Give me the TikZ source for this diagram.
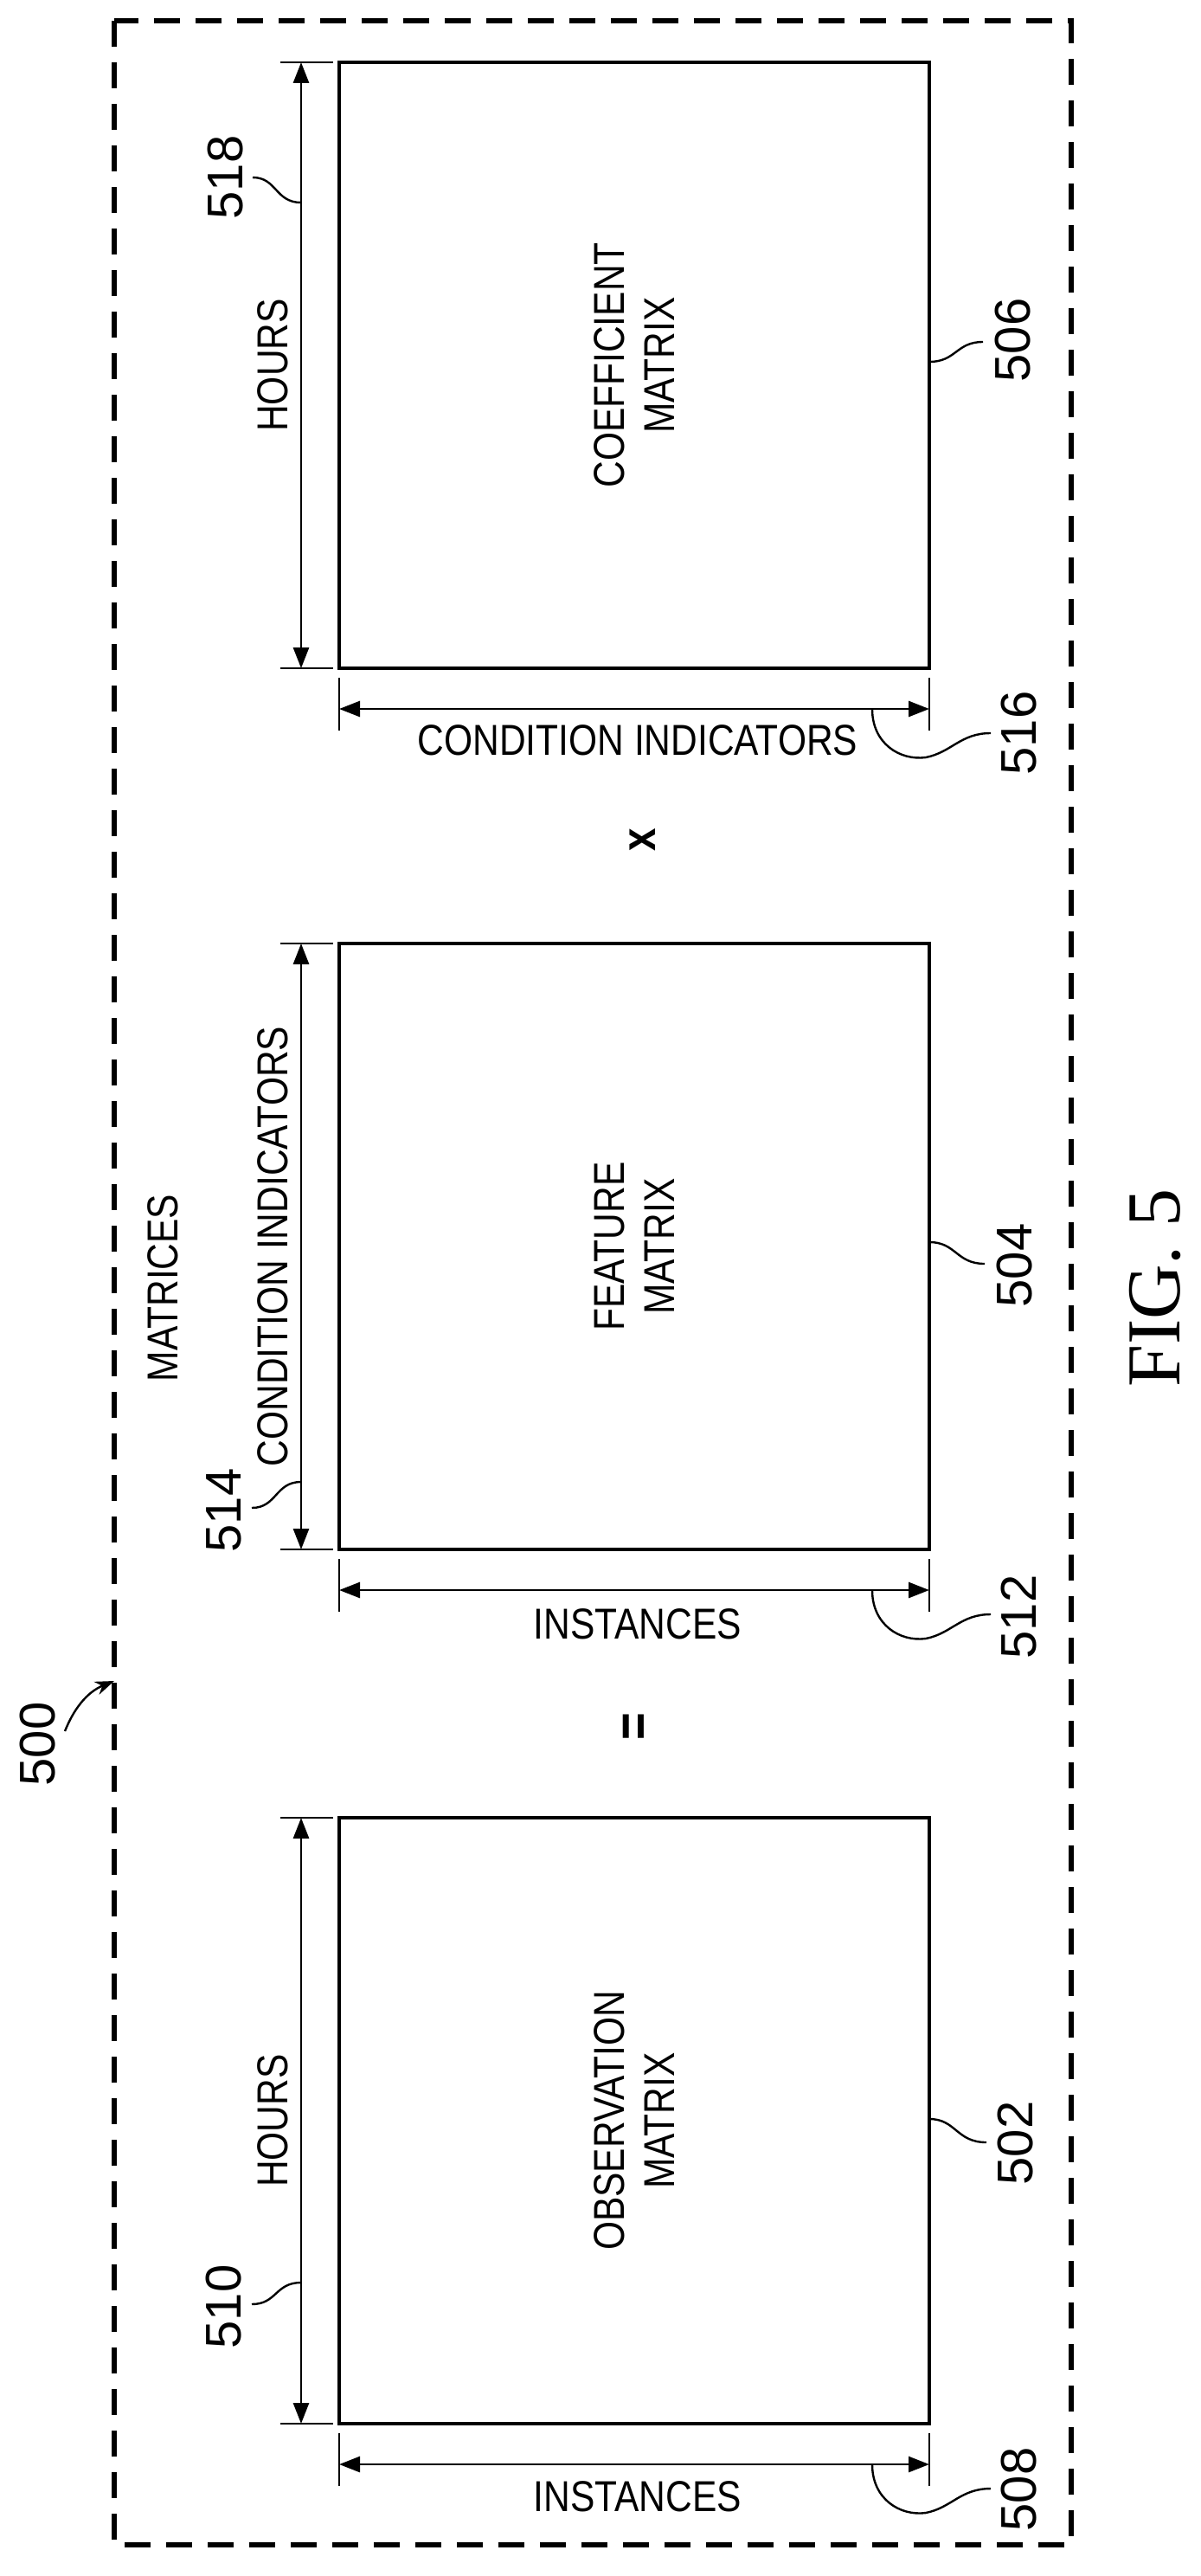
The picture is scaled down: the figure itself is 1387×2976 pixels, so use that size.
\documentclass[tikz,border=0pt]{standalone}
\usepackage{fontspec}
\setmainfont{Liberation Sans}[FakeStretch=0.85]
\newfontfamily\numfont{Liberation Sans}
\newfontfamily\figfont{Liberation Serif}
\usetikzlibrary{arrows.meta}
\begin{document}
\begin{tikzpicture}[x=0.5pt,y=-0.5pt,
  box/.style={draw,line width=1.9pt,minimum width=341pt,minimum height=350pt,inner sep=0pt},
  dim/.style={line width=1.4pt,{Triangle[length=12pt,width=9pt]}-{Triangle[length=12pt,width=9pt]}},
  ext/.style={line width=1.3pt},
  lbl/.style={font=\fontsize{25}{29}\selectfont,inner sep=0pt},
  num/.style={font=\numfont\fontsize{29}{32}\selectfont,rotate=90,inner sep=0pt},
  lead/.style={line width=1.2pt}]
\useasboundingbox (0,0) rectangle (1387,2976);
\draw[line width=2.8pt,dash pattern=on 15pt off 9pt] (132,24) rectangle (1238,2940);

\foreach \i/\cy in {1/422,2/1440,3/2450}{
  \pgfmathsetmacro{\top}{\cy-350}
  \pgfmathsetmacro{\bot}{\cy+350}
  \pgfmathsetmacro{\ay}{\cy+397}
  \node[box] (b\i) at (733,\cy) {};
  \draw[ext] (324,\top) -- (385,\top) (324,\bot) -- (385,\bot);
  \draw[dim] (348,\top) -- (348,\bot);
  \draw[ext] (392,\bot+11) -- (392,\bot+72) (1074,\bot+11) -- (1074,\bot+72);
  \draw[dim] (392,\ay) -- (1074,\ay);
  \draw[lead] (1008,\ay) .. controls (1008,\ay+40) and (1040,\ay+60) .. (1070,\ay+56)
     .. controls (1100,\ay+50) and (1110,\ay+28) .. (1145,\ay+28);
}

\node[lbl,rotate=90,align=center] (t1) at (b1) {COEFFICIENT\\MATRIX};
\node[lbl,rotate=90,align=center] (t2) at (b2) {FEATURE\\MATRIX};
\node[lbl,rotate=90,align=center] (t3) at (b3) {OBSERVATION\\MATRIX};

\node[lbl,rotate=90] (h1) at (315,422) {HOURS};
\node[lbl,rotate=90] (h2) at (315,1440) {CONDITION INDICATORS};
\node[lbl,rotate=90] (h3) at (315,2450) {HOURS};

\node[lbl] (w1) at (737,855) {CONDITION INDICATORS};
\node[lbl] (w2) at (737,1876) {INSTANCES};
\node[lbl] (w3) at (737,2884) {INSTANCES};

\node[num] (n516) at (1178,847) {516};
\node[num] (n512) at (1178,1868) {512};
\node[num] (n508) at (1178,2876) {508};

\node[num] (n518) at (261,205) {518};
\draw[lead] (348,234) .. controls (318,234) and (320,205) .. (292,205);
\node[num] (n514) at (259,1745) {514};
\draw[lead] (348,1712) .. controls (318,1712) and (320,1742) .. (291,1742);
\node[num] (n510) at (259,2665) {510};
\draw[lead] (348,2637) .. controls (318,2637) and (320,2662) .. (291,2662);

\node[num] (n506) at (1171,393) {506};
\draw[lead] (1074,418) .. controls (1105,418) and (1105,395) .. (1136,395);
\node[num] (n504) at (1173,1462) {504};
\draw[lead] (1074,1435) .. controls (1105,1435) and (1105,1460) .. (1138,1460);
\node[num] (n502) at (1174,2476) {502};
\draw[lead] (1074,2448) .. controls (1105,2448) and (1105,2475) .. (1140,2475);

\node[lbl,rotate=90] (mat) at (188,1488) {MATRICES};
\node[lbl,rotate=90,font=\bfseries\fontsize{28}{28}\selectfont] (times) at (743,970) {x};
\node[lbl,rotate=90,font=\bfseries\fontsize{32}{32}\selectfont] (eq) at (737,1995) {=};

\node[num] (n500) at (44,2015) {500};
\draw[lead,-{Stealth[length=11pt,width=8pt]}] (75,2000) .. controls (85,1975) and (100,1955) .. (132,1942);

\node[font=\figfont\fontsize{44}{48}\selectfont,rotate=90,inner sep=0pt] (fig) at (1335,1488) {FIG. 5};
\end{tikzpicture}
\end{document}
